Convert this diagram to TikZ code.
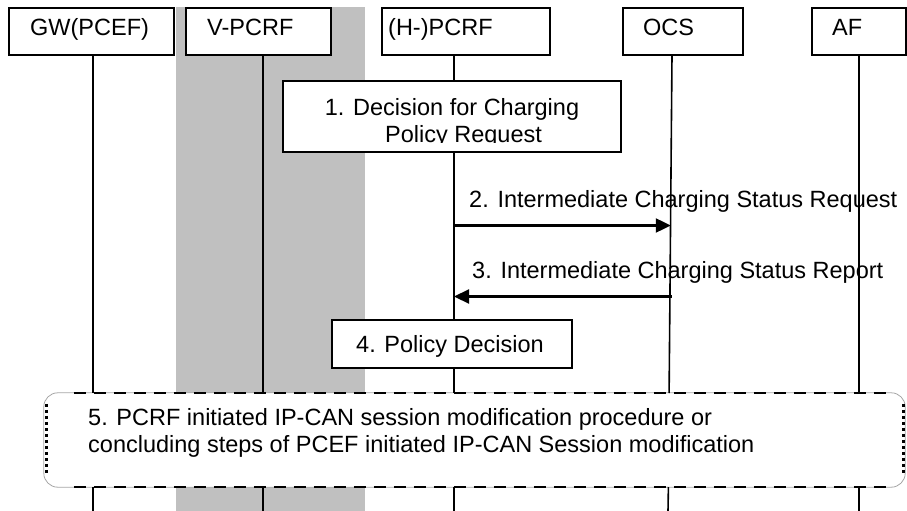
\documentclass[tikz,border=0pt]{standalone}
\usepackage{fontspec}
\setmainfont{Liberation Sans}
\usetikzlibrary{arrows.meta}
\definecolor{bandgray}{RGB}{192,192,192}
\tikzset{
  box/.style={draw, fill=white, line width=1.6pt, inner sep=0pt},
  lbl/.style={anchor=base west, inner sep=0pt},
  clbl/.style={anchor=base, inner sep=0pt},
  life/.style={line width=1.6pt},
  msg/.style={line width=2.2pt, -{Triangle[length=15pt, width=14pt]}},
}
\begin{document}
\begin{tikzpicture}[x=1pt, y=-1pt, font=\fontsize{23.5}{27}\selectfont]
\useasboundingbox (0,0) rectangle (907,511);

% shaded visited-network band
\fill[bandgray] (176,7) rectangle (365,511);

% header boxes
\node[box, minimum width=165pt, minimum height=47pt] (gw)   at (91.5,31.5) {};
\node[box, minimum width=145pt, minimum height=47pt] (vpcrf) at (258.5,31.5) {};
\node[box, minimum width=168pt, minimum height=47pt] (hpcrf) at (466,31.5) {};
\node[box, minimum width=120pt, minimum height=47pt] (ocs)  at (683,31.5) {};
\node[box, minimum width=94pt,  minimum height=47pt] (af)   at (859,31.5) {};
\node[lbl] (gwt)    at (30,36)  {GW(PCEF)};
\node[lbl] (vpcrft) at (207,36) {V-PCRF};
\node[lbl] (hpcrft) at (388,36) {(H-)PCRF};
\node[lbl] (ocst)   at (643,36) {OCS};
\node[lbl] (aft)    at (832,36) {AF};

% step boxes on the PCRF lifeline
\node[box, minimum width=338pt, minimum height=71pt] (dec1) at (452,116.5) {};
\node[box, minimum width=240pt, minimum height=48pt] (dec4) at (452,344) {};
\node[clbl] (dec1a) at (452,115) {1. Decision for Charging};
\begin{scope}
  \clip (283,81) rectangle (621,142.6);
  \node[lbl] (dec1b) at (385,142) {Policy Request};
\end{scope}
\node[clbl] (dec4t) at (450,352) {4. Policy Decision};

% procedure box
\node[inner sep=0pt, minimum width=861pt, minimum height=94pt] (proc) at (474.5,440) {};
\fill[white, rounded corners=14pt] (proc.north west) rectangle (proc.south east);
\draw[gray!70, line width=0.8pt, rounded corners=14pt] (proc.north west) rectangle (proc.south east);
\draw[line width=2.2pt, dash pattern=on 12pt off 8pt] ([xshift=30pt]proc.north west) -- ([xshift=-14pt]proc.north east);
\draw[line width=2.2pt, dash pattern=on 12pt off 8pt] ([xshift=30pt]proc.south west) -- ([xshift=-14pt]proc.south east);
\draw[line width=3.2pt, dash pattern=on 3pt off 3pt] ([shift={(2.5pt,-11pt)}]proc.north west) -- ([shift={(2.5pt,12pt)}]proc.south west);
\draw[line width=3.2pt, dash pattern=on 3pt off 3pt] ([shift={(-1.5pt,-11pt)}]proc.north east) -- ([shift={(-1.5pt,12pt)}]proc.south east);
\node[lbl] (proc1) at (88,425) {5. PCRF initiated IP-CAN session modification procedure or};
\node[lbl] (proc2) at (88,452) {concluding steps of PCEF initiated IP-CAN Session modification};

% lifelines
\coordinate (gwA) at (93,55.5);   \coordinate (gwB) at (93,487);
\coordinate (vA) at (263,55.5);   \coordinate (vB) at (263,487);
\coordinate (hA) at (454,55.5);   \coordinate (hB) at (454,487);
\coordinate (oA) at (672,55.5);   \coordinate (oM) at (669.1,393); \coordinate (oB) at (668.4,487); \coordinate (oZ) at (668,511);
\coordinate (aA) at (859,55.5);   \coordinate (aB) at (859,487);
\draw[life] (gwA) -- (gwA |- proc.north);  \draw[life] (gwB) -- (93,511);
\draw[life] (vA) -- (vA |- proc.north);    \draw[life] (vB) -- (263,511);
\draw[life] (hA) -- (hA |- dec1.north);
\draw[life] (hA |- dec1.south) -- (hA |- dec4.north);
\draw[life] (hA |- dec4.south) -- (hA |- proc.north);
\draw[life] (hB) -- (454,511);
\draw[life] (oA) -- (oM);  \draw[life] (oB) -- (oZ);
\draw[life] (aA) -- (aA |- proc.north);    \draw[life] (aB) -- (859,511);

% messages between PCRF and OCS
\coordinate (h2) at (454,225.5);  \coordinate (o2) at (670.8,225.5);
\coordinate (h3) at (454,296.5);  \coordinate (o3) at (671.5,296.5);
\draw[msg] (h2) -- (o2);
\draw[msg] (o3) -- (h3);
\node[lbl] (m2) at (469,207) {2. Intermediate Charging Status Request};
\node[lbl] (m3) at (472,278) {3. Intermediate Charging Status Report};
\end{tikzpicture}
\end{document}
